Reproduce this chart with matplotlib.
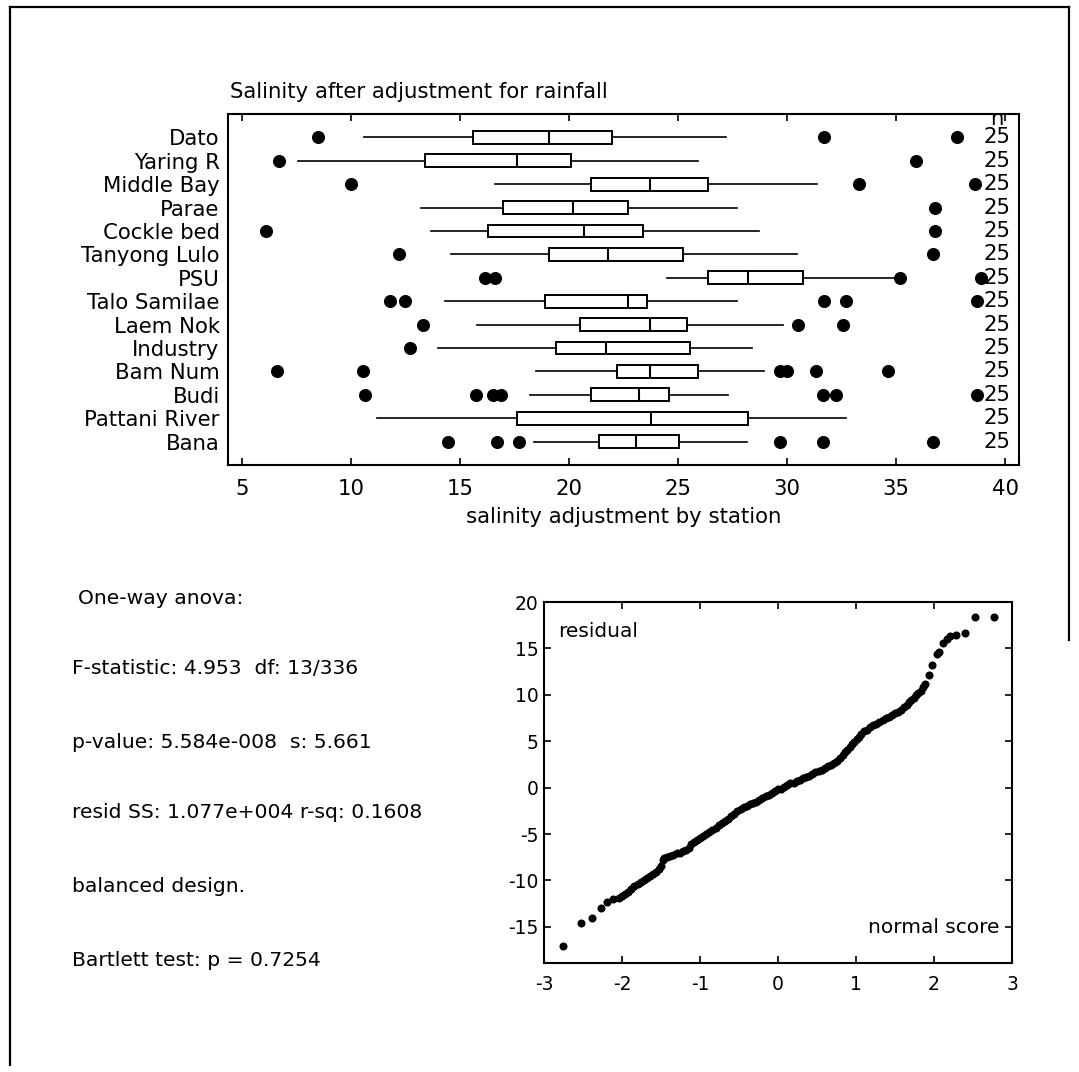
import matplotlib
matplotlib.use("Agg")
import matplotlib.pyplot as plt
from matplotlib.lines import Line2D

plt.rcParams["font.family"] = ["DejaVu Sans"]
plt.rcParams["axes.unicode_minus"] = False

# ---- box plot summary per station (salinity after rainfall adjustment) ----
stations = ["Dato", "Yaring R", "Middle Bay", "Parae", "Cockle bed", "Tanyong Lulo",
            "PSU", "Talo Samilae", "Laem Nok", "Industry", "Bam Num", "Budi",
            "Pattani River", "Bana"]
whisker_low = [10.6, 7.6, 16.6, 13.2, 13.7, 14.6, 24.5, 14.3, 15.8, 14.0, 18.5, 18.2, 11.2, 18.4]
q1 = [15.6, 13.4, 21.0, 17.0, 16.3, 19.1, 26.4, 18.9, 20.5, 19.4, 22.2, 21.0, 17.6, 21.4]
median = [19.1, 17.6, 23.7, 20.2, 20.7, 21.8, 28.2, 22.7, 23.7, 21.7, 23.7, 23.2, 23.75, 23.1]
q3 = [22.0, 20.1, 26.4, 22.7, 23.4, 25.25, 30.75, 23.6, 25.4, 25.55, 25.9, 24.6, 28.2, 25.05]
whisker_high = [27.2, 25.9, 31.4, 27.7, 28.7, 30.45, 35.0, 27.7, 29.8, 28.4, 28.95, 27.3, 32.7, 28.15]
outliers = [
    [8.5, 31.7, 37.8],
    [6.7, 35.9],
    [10.0, 33.3, 38.6],
    [36.8],
    [6.1, 36.8],
    [12.2, 36.7],
    [16.15, 16.6, 35.2, 38.9],
    [11.8, 12.5, 31.7, 32.7, 38.7],
    [13.3, 30.5, 32.55],
    [12.7],
    [6.6, 10.55, 29.7, 30.0, 31.35, 34.65],
    [10.65, 15.75, 16.5, 16.9, 31.65, 32.25, 38.7],
    [],
    [14.45, 16.7, 17.7, 29.7, 31.65, 36.7],
]
n_obs = [25] * 14
box_xticks = [5, 10, 15, 20, 25, 30, 35, 40]

# ---- normal probability plot of the ANOVA residuals ----
qq_score = [-2.76, -2.52, -2.38, -2.27, -2.19, -2.12,
            -2.04, -2.00, -1.96, -1.92, -1.88, -1.84, -1.80, -1.76, -1.72, -1.68,
            -1.64, -1.60, -1.56, -1.52, -1.50, -1.48, -1.46, -1.42, -1.38, -1.34,
            -1.30, -1.26, -1.22, -1.18, -1.14, -1.11, -1.08, -1.04, -1.00, -0.96,
            -0.92, -0.88, -0.84, -0.80, -0.76, -0.72, -0.68, -0.64, -0.60, -0.56,
            -0.52, -0.48, -0.44, -0.40, -0.36, -0.32, -0.28, -0.24, -0.20, -0.16,
            -0.12, -0.08, -0.04, 0.00, 0.04, 0.08, 0.12, 0.16, 0.20, 0.24,
            0.28, 0.32, 0.36, 0.40, 0.44, 0.48, 0.52, 0.56, 0.60, 0.64,
            0.68, 0.72, 0.76, 0.80, 0.83, 0.86, 0.89, 0.92, 0.95, 0.98,
            1.01, 1.04, 1.07, 1.10, 1.14, 1.18, 1.22, 1.26, 1.30, 1.34,
            1.38, 1.42, 1.46, 1.50, 1.54, 1.58, 1.62, 1.65, 1.68, 1.71,
            1.74, 1.77, 1.80, 1.83, 1.86, 1.88,
            1.94, 1.98, 2.04, 2.07, 2.12, 2.17, 2.21, 2.28, 2.40, 2.53, 2.77]
qq_resid = [-17.1, -14.6, -14.0, -13.0, -12.3, -12.0,
            -11.85, -11.65, -11.45, -11.2, -10.95, -10.6, -10.4, -10.2, -9.95, -9.75,
            -9.55, -9.35, -9.1, -8.8, -8.5, -7.75, -7.6, -7.45, -7.35, -7.25,
            -7.1, -7.0, -6.85, -6.7, -6.5, -6.1, -5.85, -5.65, -5.4, -5.2,
            -4.95, -4.75, -4.55, -4.3, -4.05, -3.85, -3.6, -3.35, -3.1, -2.85,
            -2.55, -2.3, -2.1, -1.95, -1.8, -1.65, -1.5, -1.3, -1.15, -0.95,
            -0.75, -0.55, -0.35, -0.2, -0.1, 0.1, 0.3, 0.45, 0.55, 0.7,
            0.85, 1.0, 1.15, 1.3, 1.5, 1.65, 1.8, 1.95, 2.1, 2.3,
            2.45, 2.65, 2.85, 3.2, 3.5, 3.8, 4.1, 4.4, 4.65, 4.95,
            5.2, 5.5, 5.8, 6.05, 6.25, 6.5, 6.7, 6.85, 7.05, 7.25,
            7.45, 7.65, 7.85, 8.05, 8.2, 8.4, 8.65, 8.95, 9.2, 9.45,
            9.7, 9.95, 10.2, 10.45, 10.8, 11.2,
            12.1, 13.2, 14.45, 14.65, 15.6, 16.05, 16.3, 16.4, 16.65, 18.35, 18.35]
qq_xticks = [-3, -2, -1, 0, 1, 2, 3]
qq_yticks = [-15, -10, -5, 0, 5, 10, 15, 20]

anova_lines = ["One-way anova:",
               "F-statistic: 4.953  df: 13/336",
               "p-value: 5.584e-008  s: 5.661",
               "resid SS: 1.077e+004 r-sq: 0.1608",
               "balanced design.",
               "Bartlett test: p = 0.7254"]

W, H = 1079, 1072
fig = plt.figure(figsize=(W / 100, H / 100), dpi=100)
fig.patch.set_facecolor("white")


def fx(px):
    return px / W


def fy(py):
    return 1 - py / H


# page frame
for xs, ys in [((10, 10), (7, 1065)), ((10, 1069), (7, 7)), ((1069, 1069), (7, 640))]:
    fig.add_artist(Line2D([fx(x) for x in xs], [fy(y) for y in ys],
                          transform=fig.transFigure, color="black", lw=1.6))

BIG = 15.3

# ---------------- box plot ----------------
ax = fig.add_axes([fx(228), fy(465), fx(1019) - fx(228), fy(114) - fy(465)])
rows = list(range(1, len(stations) + 1))
stats = []
for i in range(len(stations)):
    stats.append(dict(whislo=whisker_low[i], q1=q1[i], med=median[i], q3=q3[i],
                      whishi=whisker_high[i], fliers=outliers[i]))
ax.bxp(stats, positions=rows, orientation="horizontal", widths=0.55,
       showcaps=False, patch_artist=True,
       boxprops=dict(facecolor="white", edgecolor="black", linewidth=1.4),
       medianprops=dict(color="black", linewidth=1.5),
       whiskerprops=dict(color="black", linewidth=1.2),
       flierprops=dict(marker="o", markerfacecolor="black", markeredgecolor="black",
                       markersize=8.4, linestyle="none"))
for r, n in zip(rows, n_obs):
    ax.text(39.62, r, str(n), ha="center", va="center", fontsize=BIG)
ax.text(39.62, 0.2, "n", ha="center", va="center", fontsize=BIG, clip_on=True)

ax.set_xlim(4.37, 40.64)
ax.set_ylim(15, 0)
ax.set_xticks(box_xticks)
ax.set_xticklabels([str(t) for t in box_xticks], fontsize=BIG)
ax.set_yticks(rows)
ax.set_yticklabels(stations, fontsize=BIG)
ax.set_yticks([5, 10], minor=True)
ax.tick_params(axis="y", which="major", length=0, pad=6)
ax.tick_params(axis="y", which="minor", direction="in", length=5, width=1.2,
               left=True, right=True)
ax.tick_params(axis="x", direction="in", length=5, width=1.2, top=True, pad=10)
for s in ax.spines.values():
    s.set_linewidth(1.5)
ax.set_xlabel("salinity adjustment by station", fontsize=BIG, labelpad=6)
fig.text(fx(230), fy(92), "Salinity after adjustment for rainfall",
         ha="left", va="center", fontsize=BIG)

# ---------------- ANOVA summary ----------------
text_x = [78, 72, 72, 72, 72, 72]
text_y = [598, 668, 743, 813, 887, 960]
for line, tx, ty in zip(anova_lines, text_x, text_y):
    fig.text(fx(tx), fy(ty), line, ha="left", va="center", fontsize=14.6)

# ---------------- normal probability plot ----------------
ax2 = fig.add_axes([fx(544), fy(963), fx(1012) - fx(544), fy(602) - fy(963)])
ax2.plot(qq_score, qq_resid, "o", color="black", markersize=5.8,
         markeredgecolor="black", markeredgewidth=0)
ax2.set_xlim(-3, 3)
ax2.set_ylim(-18.9, 20)
ax2.set_xticks(qq_xticks)
ax2.set_xticklabels([str(t) for t in qq_xticks], fontsize=13.5)
ax2.set_yticks(qq_yticks)
ax2.set_yticklabels([str(t) for t in qq_yticks], fontsize=13.5)
ax2.tick_params(direction="in", length=5, width=1.2, top=True, right=True)
ax2.tick_params(axis="x", pad=9)
ax2.tick_params(axis="y", pad=4)
for s in ax2.spines.values():
    s.set_linewidth(1.5)
ax2.text(-2.82, 16.8, "residual", ha="left", va="center", fontsize=14.5)
ax2.text(2.84, -15.1, "normal score", ha="right", va="center", fontsize=14.5)

fig.savefig("out.png", dpi=100, facecolor="white")
